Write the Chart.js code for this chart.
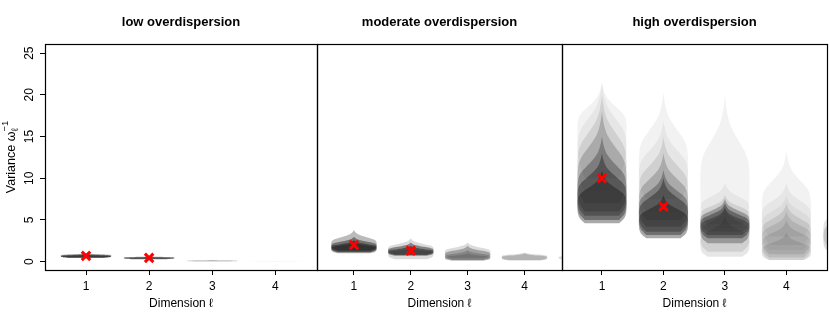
<!DOCTYPE html>
<html>
<head>
<meta charset="utf-8">
<script src="https://cdn.jsdelivr.net/npm/chart.js@4/dist/chart.umd.min.js"></script>
<style>
  body { margin: 0; background: #fff; }
  #wrap { position: relative; width: 830px; height: 332px; }
  canvas { position: absolute; top: 0; }
</style>
</head>
<body>
<div id="wrap">
  <canvas id="low" width="320" height="332" style="left:0px"></canvas>
  <canvas id="moderate" width="265" height="332" style="left:300px"></canvas>
  <canvas id="high" width="285" height="332" style="left:545px"></canvas>
</div>
<script>
// DATA

var dims = [1, 2, 3, 4, 5];
var xTicks = [1, 2, 3, 4];
var yTicks = [0, 5, 10, 15, 20, 25];
var panelTitles = ['low overdispersion', 'moderate overdispersion', 'high overdispersion'];

// true variances (red crosses), dimensions 1 and 2
var trueLow = [0.7, 0.45];
var trueModerate = [2.0, 1.32];
var trueHigh = [10.0, 6.6];

// violin layers per dimension: [lowest, mode, highest, number of overlapping replicates]
var layersLow = [
  [[0.45, 0.62, 0.85, 14], [0.5, 0.7, 0.95, 10], [0.55, 0.75, 1.0, 5]],
  [[0.3, 0.42, 0.58, 14], [0.33, 0.46, 0.65, 8]],
  [[0.02, 0.08, 0.18, 4], [0.04, 0.1, 0.22, 3]],
  [[0.0, 0.02, 0.07, 1]],
  [[0.0, 0.01, 0.04, 1]]
];
var layersModerate = [
  [[1.1, 1.6, 2.6, 10], [1.2, 1.8, 3.0, 10], [1.35, 2.0, 3.8, 6], [1.0, 1.45, 2.4, 6]],
  [[0.7, 1.1, 1.9, 10], [0.8, 1.25, 2.3, 10], [0.3, 0.9, 1.7, 3], [0.9, 1.4, 2.8, 3]],
  [[0.1, 0.5, 1.4, 4], [0.2, 0.75, 1.9, 6], [0.4, 1.05, 2.3, 3], [0.15, 0.4, 1.0, 3]],
  [[0.15, 0.45, 1.0, 4], [0.2, 0.6, 1.1, 3]],
  [[0.2, 0.5, 0.9, 3]]
];
var layersHigh = [
  [[4.6, 6.5, 11, 8], [5.0, 7.2, 13, 8], [5.5, 8.0, 15, 6], [6.0, 9.0, 18, 4], [7.0, 10.5, 20, 2], [8.5, 12.5, 21.5, 1], [10, 15.5, 21.5, 1]],
  [[2.8, 4.5, 8, 8], [3.2, 5.2, 10, 8], [3.6, 5.8, 11, 6], [4.2, 6.6, 13, 4], [5.0, 7.8, 15, 2], [6.0, 9.5, 17, 1], [7.5, 11, 20.3, 1]],
  [[0.6, 2.0, 5.5, 2], [1.2, 3.0, 6.5, 2], [2.2, 3.8, 6.5, 6], [2.8, 4.2, 7, 8], [3.2, 4.6, 7.5, 6], [3.6, 5.2, 8, 2], [4.5, 6.0, 9.5, 1], [4.0, 8.6, 20, 1]],
  [[0.2, 1.0, 3.5, 2], [0.2, 1.8, 5, 2], [0.5, 2.6, 6, 2], [0.9, 3.2, 7, 2], [1.4, 4.0, 8, 1], [2.0, 5.0, 9.5, 1], [3.0, 6.0, 13.2, 1]],
  [[1.0, 2.6, 7, 3], [1.6, 3.4, 8, 2]]
];

// violin profile (fraction of max half width)
var lowerU = [0, 0.3, 0.6, 1];
var lowerW = [0.7, 0.9, 0.98, 1];
var upperU = [0, 0.15, 0.3, 0.4, 0.5, 0.6, 0.7, 0.8, 0.9, 1];
var upperW = [1, 1, 0.95, 0.82, 0.6, 0.38, 0.2, 0.1, 0.04, 0];

// END DATA

var halfWidth = 0.4;
var baseAlpha = 0.05;

Chart.defaults.font.family = "'Liberation Sans', Arial, sans-serif";
Chart.defaults.color = '#000';

function violin(dim, lo, mode, hi) {
  var right = [];
  lowerU.forEach(function (u, i) {
    right.push({ x: dim + lowerW[i] * halfWidth, y: lo + u * (mode - lo) });
  });
  upperU.forEach(function (u, i) {
    if (i > 0) right.push({ x: dim + upperW[i] * halfWidth, y: mode + u * (hi - mode) });
  });
  var left = right.slice().reverse().map(function (p) { return { x: 2 * dim - p.x, y: p.y }; });
  return right.concat(left);
}

var framePlugin = {
  id: 'frame',
  afterDraw: function (chart) {
    var a = chart.chartArea, ctx = chart.ctx;
    ctx.save();
    ctx.strokeStyle = '#000';
    ctx.lineWidth = 1.2;
    ctx.strokeRect(a.left + 0.5, a.top + 0.5, a.right - a.left, a.bottom - a.top);
    ctx.restore();
  }
};

var yTitlePlugin = {
  id: 'yTitle',
  afterDraw: function (chart) {
    var ctx = chart.ctx;
    var a = chart.chartArea;
    ctx.save();
    ctx.translate(15, (a.top + a.bottom) / 2);
    ctx.rotate(-Math.PI / 2);
    ctx.fillStyle = '#000';
    ctx.textBaseline = 'alphabetic';
    var big = "12.5px 'Liberation Sans', Arial, sans-serif";
    var small = "9.5px 'Liberation Sans', Arial, sans-serif";
    ctx.font = big;
    var main = 'Variance \u03c9';
    var wMain = ctx.measureText(main).width;
    ctx.font = small;
    var wSub = ctx.measureText('\u2113').width;
    var wSup = ctx.measureText('\u22121').width;
    var total = wMain + Math.max(wSub, wSup);
    var x0 = -total / 2;
    ctx.font = big;
    ctx.fillText(main, x0, 0);
    ctx.font = small;
    ctx.fillText('\u2113', x0 + wMain, 3);
    ctx.fillText('\u22121', x0 + wMain, -7);
    ctx.restore();
  }
};

function makePanel(id, title, layers, truth, showY, padLeft, padRight) {
  var datasets = [];
  datasets.push({
    data: truth.map(function (v, i) { return { x: dims[i], y: v }; }),
    showLine: false,
    pointStyle: 'crossRot',
    pointRadius: 6,
    pointBorderWidth: 3,
    pointBorderColor: '#ff0000',
    pointBackgroundColor: '#ff0000',
    order: -1
  });
  layers.forEach(function (dimLayers, d) {
    dimLayers.forEach(function (l) {
      var alpha = 1 - Math.pow(1 - baseAlpha, l[3]);
      datasets.push({
        data: violin(dims[d], l[0], l[1], l[2]),
        showLine: true,
        fill: 'shape',
        tension: 0.2,
        borderWidth: 0,
        borderColor: 'rgba(0,0,0,0)',
        backgroundColor: 'rgba(0,0,0,' + alpha.toFixed(3) + ')',
        pointRadius: 0
      });
    });
  });

  var ctx = document.getElementById(id).getContext('2d');
  var chart = new Chart(ctx, {
    type: 'scatter',
    data: { datasets: datasets },
    options: {
      responsive: false,
      animation: false,
      devicePixelRatio: 1,
      events: [],
      layout: { autoPadding: false, padding: { left: padLeft, right: padRight, top: 0, bottom: 0 } },
      plugins: {
        legend: { display: false },
        tooltip: { enabled: false },
        title: {
          display: true,
          text: title,
          fullSize: false,
          font: { size: 13, weight: 'bold' },
          padding: { top: 15, bottom: 13.4 }
        }
      },
      scales: {
        x: {
          type: 'linear',
          min: 0.35,
          max: 4.66,
          afterBuildTicks: function (axis) { axis.ticks = xTicks.map(function (v) { return { value: v }; }); },
          afterFit: function (axis) { axis.height = 62; },
          ticks: { font: { size: 12 }, padding: 4, maxRotation: 0, callback: function (v) { return v; } },
          grid: { drawOnChartArea: false, drawTicks: true, tickLength: 5, color: '#000' },
          border: { display: false },
          title: { display: true, text: 'Dimension \u2113', font: { size: 12 }, padding: { top: 0, bottom: 21 } }
        },
        y: {
          display: showY,
          min: -1.0,
          max: 26.1,
          afterBuildTicks: function (axis) { axis.ticks = yTicks.map(function (v) { return { value: v }; }); },
          afterFit: function (axis) { if (showY) axis.width = 45; },
          ticks: { font: { size: 12 }, padding: 4, minRotation: 90, maxRotation: 90, crossAlign: 'center' },
          grid: { drawOnChartArea: false, drawTicks: true, tickLength: 5, color: '#000' },
          border: { display: false }
        }
      }
    },
    plugins: showY ? [framePlugin, yTitlePlugin] : [framePlugin]
  });
  return chart;
}

makePanel('low', panelTitles[0], layersLow, trueLow, true, 0, 3);
makePanel('moderate', panelTitles[1], layersModerate, trueModerate, false, 17, 3);
makePanel('high', panelTitles[2], layersHigh, trueHigh, false, 17, 3);
</script>
</body>
</html>
